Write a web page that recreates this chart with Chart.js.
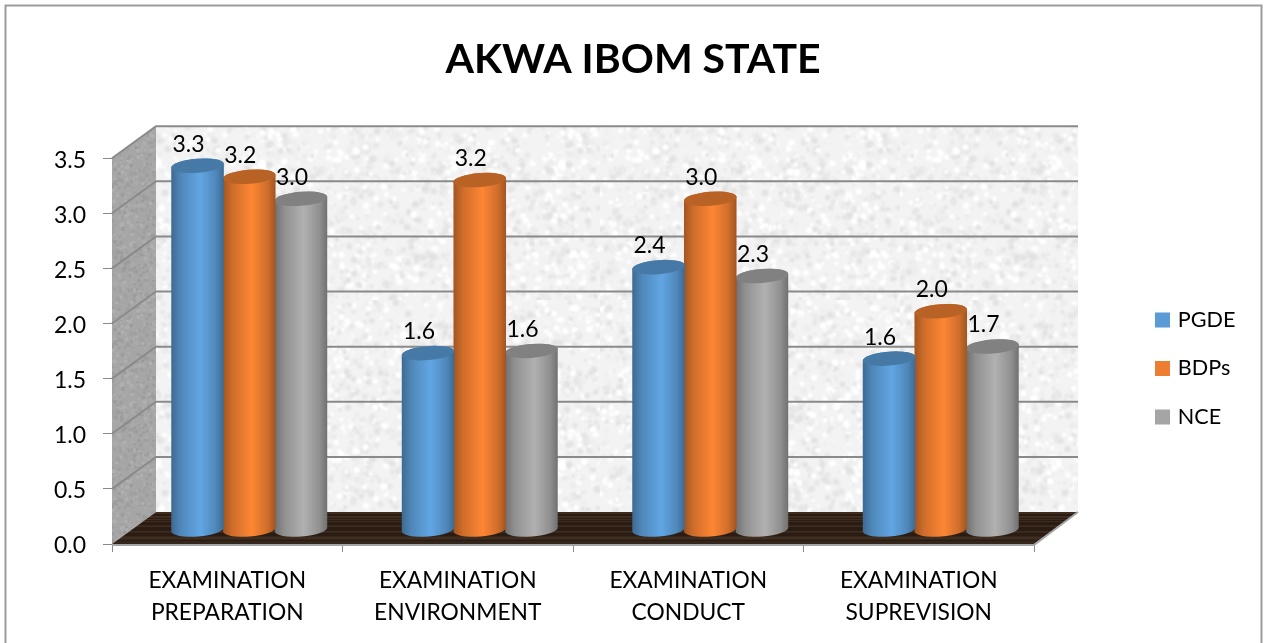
<!DOCTYPE html>
<html><head><meta charset="utf-8">
<style>html,body{margin:0;padding:0;background:#fff;overflow:hidden}canvas{display:block}</style>
<script src="https://cdn.jsdelivr.net/npm/chart.js@4"></script>
</head><body><canvas id="c" width="1264" height="643"></canvas>
<script>
const titleText = 'AKWA IBOM STATE';
const categories = [['EXAMINATION','PREPARATION'],['EXAMINATION','ENVIRONMENT'],['EXAMINATION','CONDUCT'],['EXAMINATION','SUPREVISION']];
const pgde = [3.3, 1.6, 2.38, 1.55];
const bdps = [3.2, 3.17, 3.0, 1.98];
const nce  = [3.0, 1.62, 2.3, 1.66];
const seriesNames = ['PGDE','BDPs','NCE'];
const seriesColors = ['#5b9bd5','#ed7d31','#a5a5a5'];
const FONT = 'Lato, Carlito, "Open Sans", sans-serif';
const DX = 44, DY = -32;          // 3-D depth of the plot box
const RY = 7, TILT = -0.08;       // cylinder cap

function shade(hex, k){
  const n = parseInt(hex.slice(1),16);
  const f = v => Math.max(0,Math.min(255,Math.round(v*k)));
  return `rgb(${f(n>>16&255)},${f(n>>8&255)},${f(n&255)})`;
}
function hash(x,y,s){ const v = Math.sin(x*127.1+y*311.7+s*74.7)*43758.5453; return v-Math.floor(v); }
function texture(size, paint){
  const c = document.createElement('canvas'); c.width=c.height=size;
  paint(c.getContext('2d'), size); return c;
}
function speckle(base, tones, count, rmax, blur){
  return (g,size)=>{
    g.fillStyle=base; g.fillRect(0,0,size,size);
    g.filter='blur('+blur+'px)';
    for(let i=0;i<count;i++){
      g.fillStyle=tones[Math.floor(hash(i,1,3)*tones.length)];
      g.beginPath();
      g.arc(hash(i,2,5)*size,hash(i,3,7)*size,0.8+hash(i,4,9)*rmax,0,7);
      g.fill();
    }
    g.filter='none';
  };
}
const wallTex = texture(300, speckle('#f3f3f3',['#e6e6e6','#ffffff','#ececec','#ffffff','#e2e2e2'],2400,2.6,1));
const sideTex = texture(160, speckle('#a6a6a6',['#9c9c9c','#b0b0b0','#a0a0a0','#ababab'],1800,1.4,.6));
const floorTex = texture(120, (g,size)=>{
  for(let y=0;y<size;y++){
    const h=hash(y,0,11);
    g.fillStyle = h>.66?'#3f2e20':(h>.33?'#2a1c12':'#35261b');
    g.fillRect(0,y,size,1);
  }
});

// Cylinders: the library's own bar elements, with their resolved geometry.
Chart.BarElement.prototype.draw = function(ctx){
  const {x,y,base,width,options} = this;
  const col = options.backgroundColor;
  const cx = x+DX/2, ty = y+DY/2+1.5, by = base+DY/2+2, rx = width/2+0.5;
  const g = ctx.createLinearGradient(cx-rx,0,cx+rx,0);
  g.addColorStop(0,shade(col,.68)); g.addColorStop(.18,shade(col,.87));
  g.addColorStop(.55,shade(col,1.07)); g.addColorStop(.85,shade(col,.87));
  g.addColorStop(1,shade(col,.68));
  ctx.save();
  ctx.fillStyle=g;
  ctx.beginPath();
  ctx.ellipse(cx,by,rx,RY,TILT,0,Math.PI);
  ctx.ellipse(cx,ty,rx,RY,TILT,Math.PI,2*Math.PI);
  ctx.closePath(); ctx.fill();
  ctx.fillStyle=shade(col,.78);
  ctx.beginPath(); ctx.ellipse(cx,ty,rx,RY,TILT,0,2*Math.PI); ctx.fill();
  ctx.restore();
};

const scene = {
  id:'scene',
  beforeLayout(chart){
    const lg = chart.legend;
    if(lg && !lg._patched){
      const f = lg.fit; lg.fit = function(){ f.call(this); this.width = 230; };
      lg._patched = true;
    }
  },
  afterLayout(chart){
    const lg = chart.legend;
    lg.left = 1131.1; lg.right = 1264; lg.top = 282.3; lg.bottom = 643;
  },
  beforeDatasetsDraw(chart){
    const ctx=chart.ctx, {left:l,right:r,top:t,bottom:b}=chart.chartArea, ys=chart.scales.y;
    ctx.save();
    // outer frame
    ctx.strokeStyle='#9b9b9b'; ctx.lineWidth=2;
    ctx.strokeRect(5.5,5.5,1256,700);
    // back wall
    ctx.fillStyle=ctx.createPattern(wallTex,'repeat');
    ctx.fillRect(l+DX,t+DY,r-l,b-t);
    // side wall
    ctx.fillStyle=ctx.createPattern(sideTex,'repeat');
    ctx.beginPath(); ctx.moveTo(l,t); ctx.lineTo(l+DX,t+DY); ctx.lineTo(l+DX,b+DY); ctx.lineTo(l,b); ctx.closePath(); ctx.fill();
    // floor
    ctx.fillStyle=ctx.createPattern(floorTex,'repeat');
    ctx.beginPath(); ctx.moveTo(l,b); ctx.lineTo(l+DX,b+DY); ctx.lineTo(r+DX,b+DY); ctx.lineTo(r,b); ctx.closePath(); ctx.fill();
    // gridlines on the walls
    ctx.strokeStyle='#8a8a8a'; ctx.lineWidth=2;
    ys.ticks.forEach(tk=>{
      if(tk.value===0) return;
      const y=ys.getPixelForValue(tk.value);
      ctx.beginPath(); ctx.moveTo(l,y); ctx.lineTo(l+DX,y+DY); ctx.lineTo(r+DX,y+DY); ctx.stroke();
    });
    // floor edges
    ctx.strokeStyle='#a3a3a3'; ctx.lineWidth=2;
    ctx.beginPath(); ctx.moveTo(l,b+1); ctx.lineTo(r,b+1); ctx.lineTo(r+DX,b+DY); ctx.stroke();
    ctx.restore();
  },
  afterDatasetsDraw(chart){
    const ctx=chart.ctx;
    ctx.save();
    ctx.fillStyle='#000'; ctx.font='23px '+FONT; ctx.textAlign='center'; ctx.textBaseline='middle';
    chart.data.datasets.forEach((ds,i)=>{
      chart.getDatasetMeta(i).data.forEach((el,j)=>{
        ctx.fillText(ds.data[j].toFixed(1), el.x+DX/2-9, el.y+DY/2-20);
      });
    });
    ctx.restore();
  }
};

new Chart(document.getElementById('c'),{
  type:'bar',
  data:{labels:categories,datasets:[
    {label:seriesNames[0],data:pgde,backgroundColor:seriesColors[0],borderColor:seriesColors[0],borderWidth:6,clip:false},
    {label:seriesNames[1],data:bdps,backgroundColor:seriesColors[1],borderColor:seriesColors[1],borderWidth:6,clip:false},
    {label:seriesNames[2],data:nce,backgroundColor:seriesColors[2],borderColor:seriesColors[2],borderWidth:6,clip:false}
  ]},
  options:{
    responsive:false,animation:false,devicePixelRatio:1,
    categoryPercentage:.673,barPercentage:1,
    layout:{padding:{left:2,right:0,top:0,bottom:0},autoPadding:false},
    plugins:{
      title:{display:true,text:titleText,color:'#000',font:{family:FONT,size:41,weight:'bold'},padding:{top:35,bottom:74}},
      legend:{position:'right',align:'start',labels:{boxWidth:9,boxHeight:9,padding:26.9,color:'#000',font:{family:FONT,size:21.6}}},
      tooltip:{enabled:false}
    },
    scales:{
      x:{
        afterFit(s){s.height=99;},
        grid:{drawOnChartArea:false,drawTicks:true,tickLength:8,color:'#8a8a8a',lineWidth:1},
        border:{display:false},
        ticks:{color:'#000',padding:13,maxRotation:0,font:{family:FONT,size:22.8,lineHeight:1.4}}
      },
      y:{
        min:0,max:3.5,
        afterFit(s){
          s.width=110;
          if(!s._shifted){
            const f=s._computeLabelItems;
            s._computeLabelItems=function(a){
              const items=f.call(this,a);
              items.forEach(it=>{it.options.translation[1]+=2;});
              return items;
            };
            s._shifted=true;
          }
        },
        grid:{drawOnChartArea:false,drawTicks:true,tickLength:9,color:'#8a8a8a',lineWidth:1},
        border:{display:false},
        ticks:{stepSize:.5,color:'#000',padding:17,font:{family:FONT,size:23},callback:v=>v.toFixed(1)}
      }
    }
  },
  plugins:[scene]
});
</script></body></html>
